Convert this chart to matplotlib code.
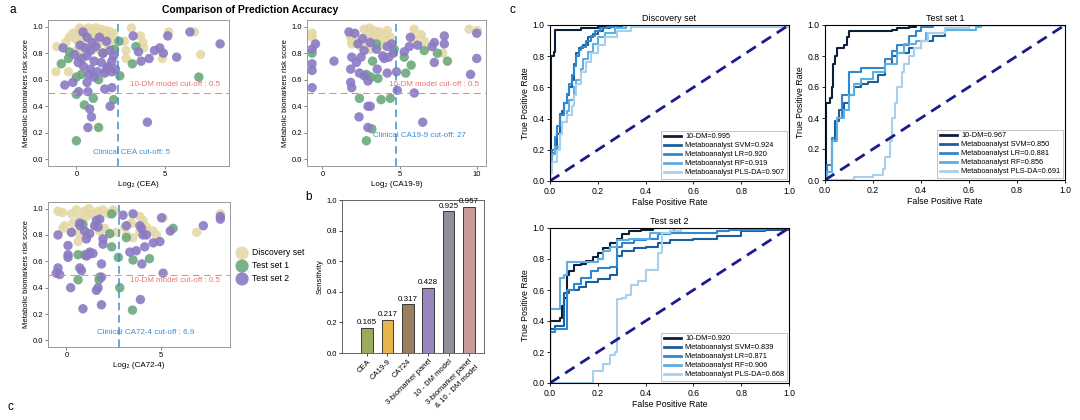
#!/usr/bin/env python3
import matplotlib as mpl
mpl.use('Agg')
import matplotlib.pyplot as plt
import numpy as np

plt.rcParams['font.family'] = ['Liberation Sans', 'DejaVu Sans']

W, H = 1080, 420

# ---------------- panel a : risk score vs log2 clinical marker ----------------
cea_disc_x = [-1.1, -0.6, -0.4, -0.2, 0.0, 0.1, 0.2, 0.3, 0.4, 0.5, 0.6, 0.7, 0.8, 0.9, 1.0, 1.1, 1.2, 1.3,
              1.4, 1.5, 1.6, 1.7, 1.8, 1.9, 2.0, 2.1, 0.3, 0.6, 0.9, 1.2, 1.5, 1.8, 0.0, 0.5, 1.0, 1.4,
              2.7, 2.8, 2.8, 3.1, 3.6, 3.75, 3.8, 4.85, 5.2, 6.65, 7.0, -1.15, -0.45, 0.1]
cea_disc_y = [0.85, 0.88, 0.92, 0.95, 0.90, 0.97, 0.99, 0.93, 0.95, 0.98, 0.92, 0.99, 0.94, 0.97, 0.91, 0.99, 0.96, 0.93,
              0.98, 0.95, 0.92, 0.97, 0.94, 0.96, 0.90, 0.95, 0.86, 0.88, 0.85, 0.87, 0.89, 0.86, 0.82, 0.80, 0.83, 0.81,
              0.89, 0.82, 0.76, 0.99, 0.93, 0.88, 0.84, 0.76, 0.96, 0.96, 0.79, 0.66, 0.66, 0.78]
cea_t1_x = [0.0, 1.25, 0.95, 0.45, 0.0, 2.1, 1.25, 0.28, -0.45, -0.85, -0.4, 2.4, 2.15, 2.45, 3.15, 3.35, 6.9, 1.5, 0.0]
cea_t1_y = [0.14, 0.24, 0.46, 0.41, 0.49, 0.45, 0.60, 0.64, 0.76, 0.72, 0.81, 0.89, 0.83, 0.63, 0.72, 0.85, 0.62, 0.80, 0.62]
cea_t2_x = [0.37, 0.6, 0.9, 1.3, 1.7, 0.2, 0.5, 0.8, 1.1, 1.5, 1.9, 2.1, -0.75, -0.1, 0.3, 0.6, 1.0, 1.4, 1.8,
            2.0, 0.4, 0.8, 1.2, 1.6, 2.0, 0.1, 0.7, 1.0, 1.7, 2.2, -0.65, -0.2, 0.13, 0.65, 0.6, 1.6, 2.0,
            0.75, 0.85, 0.65, 1.9, 3.2, 5.15, 6.4, 8.1, 4.7, 4.4, 3.5, 4.9, 5.65, 4.1, 3.65, 4.0]
cea_t2_y = [0.96, 0.92, 0.88, 0.92, 0.89, 0.86, 0.84, 0.82, 0.85, 0.80, 0.82, 0.78, 0.84, 0.79, 0.76, 0.78, 0.74, 0.73, 0.70,
            0.74, 0.70, 0.68, 0.66, 0.65, 0.66, 0.73, 0.64, 0.62, 0.68, 0.68, 0.56, 0.58, 0.51, 0.51, 0.58, 0.53, 0.54,
            0.38, 0.32, 0.24, 0.40, 0.93, 0.93, 0.96, 0.87, 0.84, 0.82, 0.81, 0.80, 0.77, 0.76, 0.74, 0.28]

ca199_disc_x = [-0.67, -0.67, 1.8, 1.9, 1.9, 2.7, 3.05, 3.35, 3.7, 4.0, 4.2, 2.95, 3.3, 2.85, 3.6, 2.5, 4.1, 4.4,
                5.95, 6.4, 6.6, 5.95, 7.8, 9.5, 10.05, 3.1, 3.9, 2.3]
ca199_disc_y = [0.95, 0.92, 0.93, 0.90, 0.87, 0.98, 0.99, 0.97, 0.96, 0.94, 0.97, 0.94, 0.92, 0.89, 0.91, 0.85, 0.89, 0.92,
                0.98, 0.94, 0.89, 0.91, 0.80, 0.98, 0.97, 0.83, 0.86, 0.88]
ca199_t1_x = [2.85, 3.2, 2.4, 3.8, 4.4, 3.6, 3.15, 2.85, 5.4, 5.75, 5.3, 4.65, 3.25, 6.6, 7.45, 8.1, -0.67, 3.5]
ca199_t1_y = [0.14, 0.23, 0.46, 0.45, 0.46, 0.61, 0.62, 0.64, 0.65, 0.71, 0.77, 0.83, 0.74, 0.82, 0.80, 0.74, 0.80, 0.87]
ca199_t2_x = [-0.67, -0.45, -0.67, -0.67, -0.67, 0.75, 1.72, 2.1, 1.9, 1.83, 1.83, 1.9, 2.37, 2.95, 3.1, 2.95,
              2.4, 2.7, 2.95, 3.55, 2.2, 2.5, 2.7, 2.3, 2.6, 3.1, 3.5, 3.9, 4.0, 4.3, 4.6, 4.2, 4.5,
              4.2, 4.8, 4.85, 5.3, 5.95, 6.5, 5.7, 5.63, 6.17, 7.1, 7.25, 7.9, 7.9, 7.25, 9.6, 10.0, 10.0]
ca199_t2_y = [0.83, 0.87, 0.72, 0.67, 0.54, 0.74, 0.96, 0.95, 0.77, 0.68, 0.58, 0.54, 0.32, 0.40, 0.40, 0.24,
              0.65, 0.63, 0.59, 0.68, 0.73, 0.77, 0.82, 0.87, 0.91, 0.88, 0.83, 0.78, 0.76, 0.77, 0.80, 0.85, 0.87,
              0.65, 0.66, 0.52, 0.81, 0.50, 0.28, 0.92, 0.85, 0.86, 0.85, 0.88, 0.87, 0.93, 0.73, 0.64, 0.95, 0.76]

ca724_disc_x = [-0.44, -0.2, 0.27, 0.53, 0.97, 1.2, 1.41, 1.68, 1.94, 2.21, 2.47, 2.56, 1.06, 0.71, 0.35, -0.09,
                -0.18, 0.27, 0.71, 0.62, 1.06, 1.5, 1.77, 2.03, 2.3, 2.65, 3.09, 3.45, 3.89, 4.06, 4.24, 4.59,
                4.77, 5.12, 6.9, 8.15, 3.53, 3.18, 3.89]
ca724_disc_y = [0.98, 0.97, 0.96, 0.99, 0.98, 1.00, 0.96, 0.98, 0.99, 0.96, 0.99, 0.98, 0.94, 0.93, 0.89, 0.87,
                0.85, 0.82, 0.81, 0.75, 0.79, 0.87, 0.83, 0.85, 0.81, 0.82, 0.86, 0.89, 0.94, 0.91, 0.86, 0.83,
                0.80, 0.93, 0.82, 0.96, 0.78, 0.80, 0.82]
ca724_t1_x = [2.4, 0.62, 0.97, 0.62, 1.73, 1.77, 2.4, 2.3, 2.75, 2.83, 3.18, 3.53, 4.4, 3.5, 5.65, 0.88]
ca724_t1_y = [0.96, 0.65, 0.65, 0.46, 0.46, 0.48, 0.71, 0.81, 0.63, 0.40, 0.78, 0.61, 0.62, 0.23, 0.85, 0.88]
ca724_t2_x = [-0.44, -0.44, -0.53, -0.35, 0.09, 0.09, 0.09, 0.27, 0.71, 0.8, 0.23, 0.88, 1.59, 1.68, 1.86, 1.86,
              1.86, 1.15, 1.24, 1.41, 1.06, 1.06, 1.24, 1.5, 1.59, 1.77, 1.68, 1.94, 1.94, 0.71, 0.71, 0.97,
              3.0, 3.53, 3.18, 3.89, 3.98, 4.06, 4.24, 3.36, 3.7, 4.0, 4.15, 4.6, 4.95, 5.04, 5.5, 5.12,
              3.92, 7.25, 8.15, 8.15]
ca724_t2_y = [0.80, 0.55, 0.51, 0.50, 0.72, 0.65, 0.63, 0.82, 0.55, 0.53, 0.40, 0.24, 0.38, 0.40, 0.27, 0.58,
              0.48, 0.65, 0.67, 0.66, 0.64, 0.77, 0.81, 0.87, 0.91, 0.92, 0.86, 0.77, 0.73, 0.87, 0.89, 0.83,
              0.95, 0.96, 0.87, 0.87, 0.85, 0.80, 0.80, 0.67, 0.68, 0.58, 0.71, 0.74, 0.75, 0.93, 0.83, 0.51,
              0.31, 0.87, 0.94, 0.92]

scatter_panels = [
    dict(name='CEA', cutoff=5, cut_text='Clinical CEA cut-off: 5', xticks=[0, 5], xlim=(-1.6, 8.6),
         dm_pos=(3.0, 0.555), cl_pos=(0.95, 0.04),
         sets=[(cea_disc_x, cea_disc_y), (cea_t1_x, cea_t1_y), (cea_t2_x, cea_t2_y)]),
    dict(name='CA19-9', cutoff=27, cut_text='Clinical CA19-9 cut-off: 27', xticks=[0, 5, 10], xlim=(-1.0, 10.6),
         dm_pos=(4.3, 0.555), cl_pos=(3.3, 0.165),
         sets=[(ca199_disc_x, ca199_disc_y), (ca199_t1_x, ca199_t1_y), (ca199_t2_x, ca199_t2_y)]),
    dict(name='CA72-4', cutoff=6.9, cut_text='Clinical CA72-4 cut-off : 6.9', xticks=[0, 5], xlim=(-0.97, 8.66),
         dm_pos=(3.36, 0.445), cl_pos=(1.6, 0.045),
         sets=[(ca724_disc_x, ca724_disc_y), (ca724_t1_x, ca724_t1_y), (ca724_t2_x, ca724_t2_y)]),
]
set_names = ['Discovery set', 'Test set 1', 'Test set 2']
set_colors = ['#e4d9a6', '#6aa97c', '#8b7ac2']

# ---------------- panel b : sensitivity ----------------
bar_labels = ['CEA', 'CA19-9', 'CA724', '3-biomarker panel', '10 - DM model', '3-biomarker panel\n& 10 - DM model']
bar_values = [0.165, 0.217, 0.317, 0.428, 0.925, 0.957]
bar_colors = ['#9aab5e', '#e6b64c', '#9a7f5f', '#9886bf', '#8f8e9b', '#c89a9a']

# ---------------- panel c : ROC curves ----------------
roc_names = ['10-DM', 'Metaboanalyst SVM', 'Metaboanalyst LR', 'Metaboanalyst RF', 'Metaboanalyst PLS-DA']
roc_colors = ['#0c1e3a', '#1c5f9c', '#2f87d0', '#5eaee3', '#a9cfea']

disc_auc = ['0.995', '0.924', '0.920', '0.919', '0.907']
disc_fpr = [
    [0, 0, 0.005, 0.015, 0.02, 0.13, 0.2, 0.26, 1.0],
    [0, 0, 0.01, 0.02, 0.03, 0.04, 0.05, 0.06, 0.07, 0.08, 0.09, 0.1, 0.11, 0.12, 0.14, 0.16, 0.18, 0.2, 0.22, 0.25, 0.3, 1.0],
    [0, 0, 0.01, 0.02, 0.03, 0.04, 0.06, 0.07, 0.08, 0.09, 0.1, 0.11, 0.12, 0.13, 0.15, 0.17, 0.19, 0.21, 0.24, 0.28, 1.0],
    [0, 0, 0.01, 0.02, 0.04, 0.05, 0.07, 0.08, 0.1, 0.11, 0.13, 0.14, 0.16, 0.18, 0.2, 0.23, 0.27, 0.32, 1.0],
    [0, 0, 0.01, 0.03, 0.04, 0.05, 0.07, 0.09, 0.1, 0.11, 0.13, 0.15, 0.17, 0.2, 0.23, 0.28, 0.34, 1.0],
]
disc_tpr = [
    [0, 0.08, 0.80, 0.83, 0.97, 0.98, 0.99, 1.0, 1.0],
    [0, 0.15, 0.18, 0.2, 0.3, 0.43, 0.45, 0.5, 0.55, 0.6, 0.65, 0.75, 0.82, 0.85, 0.87, 0.92, 0.94, 0.96, 0.98, 0.99, 1.0, 1.0],
    [0, 0.12, 0.2, 0.28, 0.35, 0.42, 0.5, 0.56, 0.62, 0.68, 0.74, 0.8, 0.84, 0.86, 0.9, 0.93, 0.96, 0.98, 0.99, 1.0, 1.0],
    [0, 0.1, 0.17, 0.22, 0.3, 0.38, 0.45, 0.52, 0.6, 0.65, 0.72, 0.78, 0.83, 0.88, 0.92, 0.95, 0.98, 1.0, 1.0],
    [0, 0.05, 0.12, 0.2, 0.3, 0.38, 0.42, 0.48, 0.55, 0.62, 0.7, 0.76, 0.82, 0.87, 0.92, 0.96, 0.99, 1.0],
]

t1_auc = ['0.967', '0.850', '0.0.881', '0.856', '0.691']
t1_fpr = [
    [0, 0.005, 0.02, 0.03, 0.035, 0.04, 0.05, 0.08, 0.09, 0.1, 0.2, 0.28, 0.3, 0.35, 0.38, 1.0],
    [0, 0.01, 0.03, 0.04, 0.06, 0.08, 0.1, 0.12, 0.15, 0.18, 0.22, 0.25, 0.28, 0.3, 0.35, 0.4, 0.45, 0.5, 0.55, 0.6, 1.0],
    [0, 0.01, 0.03, 0.05, 0.07, 0.1, 0.15, 0.22, 0.25, 0.28, 0.3, 0.35, 0.38, 0.4, 0.45, 1.0],
    [0, 0.01, 0.03, 0.05, 0.08, 0.1, 0.12, 0.15, 0.2, 0.25, 0.3, 0.33, 0.38, 0.42, 0.5, 0.63, 0.65, 1.0],
    [0, 0.12, 0.2, 0.24, 0.25, 0.27, 0.28, 0.29, 0.3, 0.32, 0.33, 0.35, 0.37, 0.4, 0.43, 0.5, 0.6, 1.0],
]
t1_tpr = [
    [0, 0.5, 0.53, 0.6, 0.75, 0.8, 0.85, 0.87, 0.92, 0.96, 0.96, 0.97, 0.98, 0.99, 1.0, 1.0],
    [0, 0.1, 0.25, 0.38, 0.45, 0.5, 0.55, 0.6, 0.62, 0.63, 0.68, 0.75, 0.8, 0.82, 0.85, 0.9, 0.93, 0.97, 0.98, 1.0, 1.0],
    [0, 0.1, 0.27, 0.4, 0.55, 0.7, 0.72, 0.72, 0.78, 0.83, 0.87, 0.93, 0.96, 0.99, 1.0, 1.0],
    [0, 0.05, 0.25, 0.4, 0.45, 0.55, 0.62, 0.65, 0.7, 0.75, 0.82, 0.88, 0.9, 0.95, 0.97, 0.99, 1.0, 1.0],
    [0, 0.02, 0.03, 0.07, 0.15, 0.25, 0.4, 0.5, 0.6, 0.7, 0.75, 0.8, 0.85, 0.9, 0.95, 0.98, 1.0, 1.0],
]

t2_auc = ['0.920', '0.839', '0.871', '0.906', '0.668']
t2_fpr = [
    [0, 0, 0.04, 0.05, 0.06, 0.07, 0.08, 0.1, 0.13, 0.15, 0.18, 0.2, 0.22, 0.25, 0.28, 0.3, 0.33, 0.38, 0.43, 1.0],
    [0, 0, 0.02, 0.06, 0.08, 0.12, 0.15, 0.2, 0.25, 0.28, 0.3, 0.35, 0.4, 0.45, 0.5, 0.6, 0.7, 0.8, 0.9, 1.0],
    [0, 0, 0.02, 0.07, 0.1, 0.13, 0.17, 0.2, 0.25, 0.28, 0.3, 0.35, 0.4, 0.45, 0.5, 0.7, 0.75, 0.9, 1.0],
    [0, 0, 0.04, 0.06, 0.07, 0.2, 0.22, 0.25, 0.28, 0.33, 0.42, 0.5, 0.52, 1.0],
    [0, 0.18, 0.18, 0.22, 0.25, 0.27, 0.28, 0.3, 0.32, 0.34, 0.37, 0.4, 0.45, 0.47, 0.5, 0.55, 1.0],
]
t2_tpr = [
    [0, 0.4, 0.42, 0.5, 0.55, 0.7, 0.72, 0.76, 0.77, 0.79, 0.81, 0.84, 0.87, 0.9, 0.93, 0.96, 0.98, 0.99, 1.0, 1.0],
    [0, 0.35, 0.37, 0.58, 0.6, 0.62, 0.65, 0.67, 0.7, 0.82, 0.85, 0.87, 0.88, 0.9, 0.92, 0.93, 0.95, 0.98, 0.99, 1.0],
    [0, 0.33, 0.35, 0.6, 0.64, 0.68, 0.72, 0.74, 0.75, 0.88, 0.9, 0.92, 0.93, 0.96, 0.97, 0.98, 0.99, 1.0, 1.0],
    [0, 0.48, 0.68, 0.7, 0.78, 0.8, 0.85, 0.88, 0.92, 0.93, 0.97, 0.98, 1.0, 1.0],
    [0, 0, 0.08, 0.12, 0.18, 0.2, 0.54, 0.55, 0.57, 0.63, 0.66, 0.73, 0.84, 0.97, 0.98, 1.0, 1.0],
]


def px_axes(fig, left, top, right, bottom):
    return fig.add_axes([left / W, 1 - bottom / H, (right - left) / W, (bottom - top) / H])


def plot_scatter(ax, p):
    for (xs, ys), color, name in zip(p['sets'], set_colors, set_names):
        ax.scatter(xs, ys, s=46, color=color, alpha=0.9, edgecolors='none', label=name, zorder=2)
    cut = np.log2(p['cutoff'])
    ax.axhline(0.5, color='#f08a8a', ls=(0, (6, 4)), lw=0.8, zorder=3)
    ax.axvline(cut, color='#3a8fd6', ls=(0, (5, 3)), lw=1.1, zorder=3)
    ax.text(*p['dm_pos'], '10-DM model cut-off : 0.5', color='#f07070', fontsize=5.8, zorder=4)
    ax.text(*p['cl_pos'], p['cut_text'], color='#3a8fd6', fontsize=5.8, zorder=4)
    ax.set_xlim(*p['xlim'])
    ax.set_ylim(-0.05, 1.05)
    ax.set_xticks(p['xticks'])
    ax.set_yticks([0.0, 0.2, 0.4, 0.6, 0.8, 1.0])
    ax.tick_params(labelsize=5.5, length=2, width=0.5, pad=1.5, color='#555555')
    ax.set_xlabel(f"Log\u2082 ({p['name']})", fontsize=5.8, labelpad=2)
    ax.set_ylabel('Metabolic biomarkers risk score', fontsize=5.5, labelpad=2)
    for sp in ax.spines.values():
        sp.set_color('#9a9a9a')
        sp.set_linewidth(0.7)


def plot_roc(ax, title, fprs, tprs, aucs):
    for fpr, tpr, auc, name, color in zip(fprs, tprs, aucs, roc_names, roc_colors):
        ax.plot(fpr, tpr, drawstyle='steps-post', color=color, lw=1.5, label=f'{name}={auc}')
    ax.plot([0, 1], [0, 1], color='#1b1b8f', ls=(0, (4, 2.5)), lw=2.0)
    ax.set_xlim(0, 1)
    ax.set_ylim(0, 1.0)
    ax.set_xticks(np.arange(0, 1.01, 0.2))
    ax.set_yticks(np.arange(0, 1.01, 0.2))
    ax.tick_params(labelsize=6.2, length=2.5, width=0.6, pad=1.5)
    ax.set_title(title, fontsize=6.5, pad=3)
    ax.set_xlabel('False Positive Rate', fontsize=6.3, labelpad=2)
    ax.set_ylabel('True Positive Rate', fontsize=6.3, labelpad=2)
    for sp in ax.spines.values():
        sp.set_linewidth(0.8)
    leg = ax.legend(loc='lower right', fontsize=5.3, handlelength=2.4, handletextpad=0.5,
                    borderpad=0.35, labelspacing=0.25, borderaxespad=0.3, fancybox=False)
    leg.get_frame().set_edgecolor('#aaaaaa')
    leg.get_frame().set_linewidth(0.6)
    for line in leg.get_lines():
        line.set_linewidth(2.0)


fig = plt.figure(figsize=(W / 100, H / 100), dpi=100)

ax_a1 = px_axes(fig, 48, 20, 229, 166)
ax_a2 = px_axes(fig, 307, 20, 486, 166)
ax_a3 = px_axes(fig, 48, 202, 230, 347)
for ax, p in zip([ax_a1, ax_a2, ax_a3], scatter_panels):
    plot_scatter(ax, p)

handles, labels = ax_a3.get_legend_handles_labels()
fig.legend(handles, labels, loc='upper left', bbox_to_anchor=(230 / W, 1 - 245 / H), fontsize=6.2,
           frameon=False, markerscale=1.4, handletextpad=0.2, labelspacing=0.45, borderaxespad=0)

fig.text(250 / W, 1 - 10 / H, 'Comparison of Prediction Accuracy', fontsize=7.5, fontweight='bold',
         ha='center', va='center')

# panel b
ax_b = px_axes(fig, 342, 200, 484, 353)
xpos = np.arange(len(bar_values))
bars = ax_b.bar(xpos, bar_values, width=0.57, color=bar_colors, edgecolor='#222222', linewidth=0.6)
ax_b.bar_label(bars, labels=[f'{v:.3f}' for v in bar_values], fontsize=5.8, padding=1)
ax_b.set_xlim(-1.23, 5.74)
ax_b.set_ylim(0, 1.0)
ax_b.set_yticks([0.0, 0.2, 0.4, 0.6, 0.8, 1.0])
ax_b.set_xticks(xpos)
ax_b.set_xticklabels(bar_labels, rotation=45, ha='right', rotation_mode='anchor', fontsize=5.7)
ax_b.tick_params(labelsize=5.5, length=2, width=0.5, pad=1.5)
ax_b.set_ylabel('Sensitivity', fontsize=5.5, labelpad=2)
for sp in ax_b.spines.values():
    sp.set_color('#666666')
    sp.set_linewidth(0.7)

# panel c
ax_c1 = px_axes(fig, 550, 25, 789, 181)
ax_c2 = px_axes(fig, 825, 25, 1065, 180)
ax_c3 = px_axes(fig, 550, 228, 789, 383)
plot_roc(ax_c1, 'Discovery set', disc_fpr, disc_tpr, disc_auc)
plot_roc(ax_c2, 'Test set 1', t1_fpr, t1_tpr, t1_auc)
plot_roc(ax_c3, 'Test set 2', t2_fpr, t2_tpr, t2_auc)

# panel letters
fig.text(10 / W, 1 - 10 / H, 'a', fontsize=8.5, va='center')
fig.text(305 / W, 1 - 197 / H, 'b', fontsize=8.5, va='center')
fig.text(510 / W, 1 - 10 / H, 'c', fontsize=8.5, va='center')
fig.text(8 / W, 1 - 413 / H, 'c', fontsize=8.5, va='bottom')

plt.savefig('out.png', dpi=100)
